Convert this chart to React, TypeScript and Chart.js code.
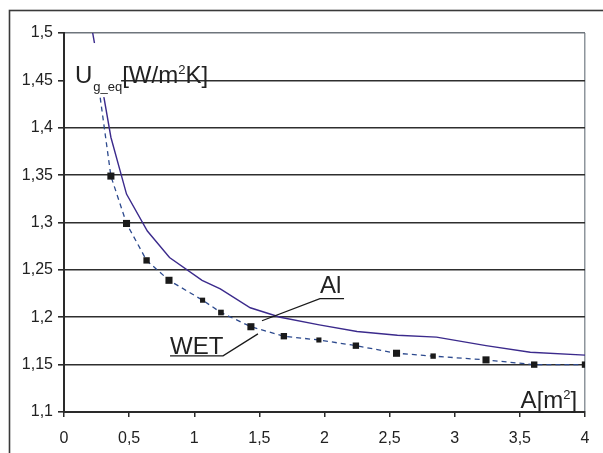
import React, { useEffect, useRef } from "react";
import { Chart, registerables } from "chart.js";

Chart.register(...registerables);

const xTicks = [0, 0.5, 1, 1.5, 2, 2.5, 3, 3.5, 4];
const yTicks = [1.1, 1.15, 1.2, 1.25, 1.3, 1.35, 1.4, 1.45, 1.5];

// Al (solid line)
const alX = [0.2, 0.36, 0.48, 0.64, 0.81, 1.06, 1.2, 1.43, 1.66, 1.96, 2.25, 2.56, 2.86, 3.24, 3.58, 4.0];
const alY = [1.516, 1.39, 1.33, 1.291, 1.263, 1.239, 1.23, 1.21, 1.2, 1.192, 1.185, 1.181, 1.179, 1.17, 1.163, 1.16];

// WET (dashed line with square markers)
const wetX = [0.25, 0.36, 0.48, 0.634, 0.806, 1.064, 1.205, 1.435, 1.688, 1.957, 2.241, 2.553, 2.834, 3.24, 3.61, 4.0];
const wetY = [1.46, 1.349, 1.299, 1.26, 1.239, 1.218, 1.205, 1.19, 1.18, 1.176, 1.17, 1.162, 1.159, 1.155, 1.15, 1.15];
const wetMarker = [0, 5, 5, 4.5, 5, 3.6, 4, 5, 4.5, 3.6, 4.5, 5, 3.8, 5, 4.5, 4.5];

const FONT = "'Liberation Sans', Arial, sans-serif";
const fmt = (v: number) => String(Number(v.toFixed(2))).replace(".", ",");

const annotations = {
  id: "annotations",
  afterDatasetsDraw(chart: any) {
    const { ctx, scales } = chart;
    const X = (v: number) => scales.x.getPixelForValue(v);
    const Y = (v: number) => scales.y.getPixelForValue(v);
    ctx.save();
    // white box behind the U label
    ctx.fillStyle = "#ffffff";
    ctx.fillRect(X(0.008), Y(1.4894), X(0.438) - X(0.008), Y(1.4323) - Y(1.4894));

    ctx.fillStyle = "#222";
    ctx.textBaseline = "alphabetic";
    ctx.textAlign = "left";
    // U_g_eq[W/m2K]
    let x = X(0.084);
    const yb = Y(1.447);
    ctx.font = `24px ${FONT}`;
    ctx.fillText("U", x, yb);
    x += ctx.measureText("U").width + 1;
    ctx.font = `13px ${FONT}`;
    ctx.fillText("g_eq", x, yb + 8);
    x += ctx.measureText("g_eq").width;
    ctx.font = `24px ${FONT}`;
    ctx.fillText("[W/m", x, yb);
    x += ctx.measureText("[W/m").width;
    ctx.font = `13px ${FONT}`;
    ctx.fillText("2", x, yb - 9);
    x += ctx.measureText("2").width;
    ctx.font = `24px ${FONT}`;
    ctx.fillText("K]", x, yb);

    // A[m2]
    ctx.font = `24px ${FONT}`;
    const w1 = ctx.measureText("A[m").width;
    const w3 = ctx.measureText("]").width;
    ctx.font = `13px ${FONT}`;
    const w2 = ctx.measureText("2").width;
    let ax = X(3.94) - (w1 + w2 + w3);
    const ab = Y(1.1042);
    ctx.font = `24px ${FONT}`;
    ctx.fillText("A[m", ax, ab);
    ax += w1;
    ctx.font = `13px ${FONT}`;
    ctx.fillText("2", ax, ab - 9);
    ax += w2;
    ctx.font = `24px ${FONT}`;
    ctx.fillText("]", ax, ab);

    // Al label
    ctx.font = `24px ${FONT}`;
    ctx.fillText("Al", X(1.965), Y(1.2259));
    // WET label
    ctx.fillText("WET", X(0.814), Y(1.1614));

    ctx.strokeStyle = "#1a1a1a";
    ctx.lineWidth = 1.3;
    ctx.beginPath();
    ctx.moveTo(X(2.15), Y(1.2196));
    ctx.lineTo(X(1.965), Y(1.2196));
    ctx.lineTo(X(1.52), Y(1.1963));
    ctx.stroke();
    ctx.beginPath();
    ctx.moveTo(X(0.814), Y(1.1593));
    ctx.lineTo(X(1.221), Y(1.1593));
    ctx.lineTo(X(1.489), Y(1.1825));
    ctx.stroke();
    ctx.restore();
  },
  afterDraw(chart: any) {
    const { ctx } = chart;
    ctx.save();
    ctx.strokeStyle = "#3a3a3a";
    ctx.lineWidth = 1.6;
    ctx.strokeRect(9.5, 10.5, 800, 800);
    ctx.restore();
  },
};

export default function App() {
  const ref = useRef<HTMLCanvasElement>(null);
  useEffect(() => {
    if (!ref.current) return;
    const chart = new Chart(ref.current, {
      type: "line",
      data: {
        datasets: [
          {
            label: "Al",
            data: alX.map((x, i) => ({ x, y: alY[i] })),
            borderColor: "#3b2a8c",
            borderWidth: 1.4,
            pointRadius: 0,
            tension: 0,
            fill: false,
          },
          {
            label: "WET",
            data: wetX.map((x, i) => ({ x, y: wetY[i] })),
            borderColor: "#2d4a8e",
            borderWidth: 1.3,
            borderDash: [5, 4],
            pointStyle: "rect",
            pointRadius: wetMarker,
            pointBackgroundColor: "#1a1a1a",
            pointBorderWidth: 0,
            tension: 0,
            fill: false,
          },
        ],
      },
      plugins: [annotations],
      options: {
        responsive: false,
        animation: false,
        events: [],
        layout: { padding: { left: 0, right: 18, top: 33, bottom: 0 } },
        plugins: { legend: { display: false }, tooltip: { enabled: false } },
        scales: {
          x: {
            type: "linear",
            min: 0,
            max: 4,
            afterBuildTicks: (s: any) => {
              s.ticks = xTicks.map((v) => ({ value: v }));
            },
            afterFit: (s: any) => {
              s.height = 41;
            },
            ticks: {
              callback: (v: any) => fmt(Number(v)),
              color: "#222",
              font: { family: FONT, size: 16 },
              padding: 12,
              maxRotation: 0,
              autoSkip: false,
            },
            grid: {
              drawOnChartArea: true,
              color: (c: any) => (c.tick && c.tick.value === 4 ? "#8e959c" : "rgba(0,0,0,0)"),
              tickColor: "#2a2a2a",
              tickLength: 5,
              lineWidth: 1.5,
            },
            border: { display: true, color: "#2a2a2a", width: 2 },
          },
          y: {
            type: "linear",
            min: 1.1,
            max: 1.5,
            afterBuildTicks: (s: any) => {
              s.ticks = yTicks.map((v) => ({ value: v }));
            },
            afterFit: (s: any) => {
              s.width = 64;
            },
            ticks: {
              callback: (v: any) => fmt(Number(v)),
              color: "#222",
              font: { family: FONT, size: 16 },
              padding: 5,
              autoSkip: false,
            },
            grid: {
              color: (c: any) => (c.tick && Math.abs(c.tick.value - 1.5) < 1e-6 ? "#6e757c" : "#2e2e2e"),
              tickColor: "#2a2a2a",
              tickLength: 6,
              lineWidth: 1.6,
            },
            border: { display: true, color: "#2a2a2a", width: 2 },
          },
        },
      },
    });
    return () => chart.destroy();
  }, []);
  return (
    <div style={{ position: "absolute", left: 0, top: 0, width: 603, height: 453, background: "#fff" }}>
      <canvas ref={ref} width={603} height={453} style={{ display: "block" }} />
    </div>
  );
}
